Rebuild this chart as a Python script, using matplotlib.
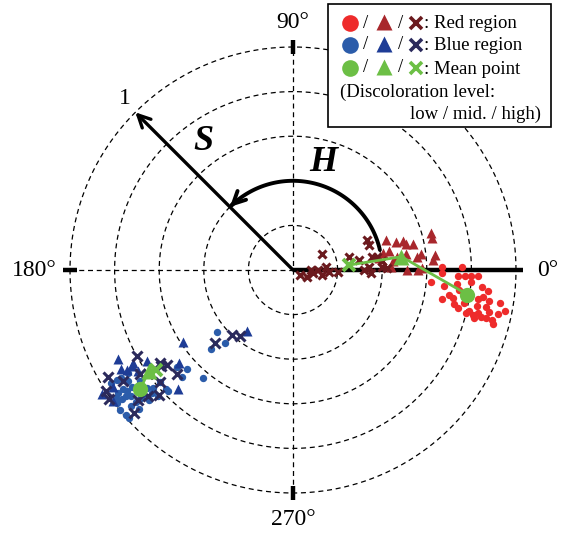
import numpy as np
import matplotlib
matplotlib.use("Agg")
import matplotlib.pyplot as plt
from matplotlib.patches import FancyArrowPatch, Rectangle
from matplotlib.path import Path

plt.rcParams['font.family'] = ['Liberation Serif', 'DejaVu Serif']

# hue angle H (deg) and saturation S
# red region
red_low_H = [1, 1, -1, -2, -2, -2, -2, -5, -6, -5, -4, -5, -7, -9, -6, -11, -10, -8, -9, -9,
             -12, -11, -11, -9, -13, -11, -12, -11, -14, -12, -14, -15, -14, -15, -14, -14, -13, -13]
red_low_S = [.67, .76, .67, .74, .77, .80, .83, .62, .68, .74, .80, .85, .75, .71, .88, .68, .73, .86, .84, .89,
             .74, .78, .84, .94, .81, .88, .94, .97, .83, .90, .92, .84, .87, .93, .89, .80, .76, .85]
red_mid_H = [18, 15, 15, 13, 12, 15, 13, 11, 11, 8, 5, 8, 7, 6, 4, 3, 2, 0, 0, 7, 6, 1]
red_mid_S = [.44, .48, .51, .52, .55, .64, .64, .44, .41, .39, .45, .51, .58, .64, .63, .41, .44, .51, .56, .47, .56, .58]
red_high_H = [-35, 0, -9, -10, 5, 29, -3, -3, 13, 9, 22, 18, 9, 0, 2, -2, 9, 2, 1, 6, -26, 0]
red_high_S = [.04, .08, .09, .13, .15, .15, .16, .20, .26, .30, .36, .36, .36, .32, .34, .35, .38, .40, .42, .40, .07, .11]

# blue region
blue_low_H = [212, 214, 215, 216, 215, 216, 216, 217, 217, 219, 221, 222, 218, 220, 222, 220, 216, 219,
              220, 221, 220, 223, 224, 220, 224, 230, 212, 223, 219, 227, 224, 223,
              212, 212, 217, 220, 222]
blue_low_S = [.91, .89, .93, .89, .96, .92, .98, .96, .99, 1.00, .99, .99, .92, .92, .93, .95, .85, .84,
              .82, .84, .78, .78, .78, .68, .69, .63, .87, .83, .44, .45, .51, .65,
              .96, .93, .94, .89, .87]
blue_mid_H = [207, 210, 211, 210, 213, 212, 219, 226, 213, 213, 216, 219, 233, 213, 211]
blue_mid_S = [.88, .83, .87, .89, .83, .77, .66, .74, .59, 1.02, 1.00, .87, .34, .96, .84]
blue_high_H = [209, 215, 216, 222, 210, 214, 220, 213, 215, 220, 221, 223, 222, 217, 213, 223, 227, 231]
blue_high_S = [.80, .73, .73, .70, .96, .83, .78, 1.00, 1.01, .91, .86, .82, .96, .71, .91, .48, .40, .38]

# mean points (low, mid, high)
red_mean_H = [-8, 7, 5]
red_mean_S = [.79, .49, .25]
blue_mean_H = [218, 215, 216]
blue_mean_S = [.87, .79, .76]

rings = [0.2, 0.4, 0.6, 0.8, 1.0]

c_red = ['#ee2b2b', '#a8272c', '#6b1a1e']
c_blue = ['#2b5caa', '#1e3c96', '#2b2a5c']
c_green = '#6cbf45'


def xy(H, S):
    t = np.radians(np.asarray(H, float))
    S = np.asarray(S, float)
    return S * np.cos(t), S * np.sin(t)


fig = plt.figure(figsize=(5.7, 5.33), dpi=100)
ax = fig.add_axes([0, 0, 1, 1])
ax.set_xlim(-293 / 223, 277 / 223)
ax.set_ylim(-263 / 223, 270 / 223)
ax.axis('off')

# grid
th = np.linspace(0, 2 * np.pi, 400)
for r in rings:
    ax.plot(r * np.cos(th), r * np.sin(th), color='black', lw=0.9, ls=(0, (4, 3)))
ax.plot([0, 0], [-1, 1], color='black', lw=0.9, ls=(0, (4, 3)))
ax.plot([-1, 0], [0, 0], color='black', lw=0.9, ls=(0, (4, 3)))
ax.plot([0, 1.03], [0, 0], color='black', lw=3.2, solid_capstyle='butt')
for a in [90, 180, 270]:
    tx, ty = xy([a, a], [0.97, 1.03])
    ax.plot(tx, ty, color='black', lw=3.2, solid_capstyle='butt')

ax.text(0, 1.11, '90°', ha='center', va='center', fontsize=17)
ax.text(-1.058, 0, '180°', ha='right', va='center', fontsize=17)
ax.text(1.094, 0, '0°', ha='left', va='center', fontsize=17)
ax.text(0, -1.12, '270°', ha='center', va='center', fontsize=17)

# S arrow
sx, sy = xy(135, 1.0)
ax.add_patch(FancyArrowPatch((0, 0), (float(sx), float(sy)), arrowstyle='->', mutation_scale=22,
                             lw=2.4, color='black', shrinkA=0, shrinkB=0))
ax.text(-0.753, 0.767, '1', ha='center', va='center', fontsize=17)
ax.text(-0.404, 0.575, 'S', ha='center', va='center', fontsize=26, fontweight='bold', fontstyle='italic')

# H arc
ang = np.radians(np.linspace(13, 135, 80))
verts = np.column_stack([0.4 * np.cos(ang), 0.4 * np.sin(ang)])
ax.add_patch(FancyArrowPatch(path=Path(verts), arrowstyle='->', mutation_scale=22,
                             lw=2.8, color='black'))
ax.text(0.135, 0.48, 'H', ha='center', va='center', fontsize=26, fontweight='bold', fontstyle='italic')

# data points
for (H, S), col in zip([(red_low_H, red_low_S), (blue_low_H, blue_low_S)], [c_red[0], c_blue[0]]):
    px, py = xy(H, S)
    ax.plot(px, py, 'o', ms=5.3, color=col, mec='none')
for (H, S), col in zip([(red_mid_H, red_mid_S), (blue_mid_H, blue_mid_S)], [c_red[1], c_blue[1]]):
    px, py = xy(H, S)
    ax.plot(px, py, '^', ms=6.5, color=col, mec='none')
for (H, S), col, ms in zip([(red_high_H, red_high_S), (blue_high_H, blue_high_S)], [c_red[2], c_blue[2]], [6, 7]):
    px, py = xy(H, S)
    ax.plot(px, py, 'x', ms=ms, mew=2.2, color=col)

# mean points
for H, S in [(red_mean_H, red_mean_S), (blue_mean_H, blue_mean_S)]:
    px, py = xy(H, S)
    ax.plot(px[::-1], py[::-1], '-', color=c_green, lw=2)
    ax.plot(px[0], py[0], 'o', ms=11, color=c_green, mec='none')
    ax.plot(px[1], py[1], '^', ms=11, color=c_green, mec='none')
    ax.plot(px[2], py[2], 'x', ms=9, mew=2.8, color=c_green)

# legend box (figure pixel coords)
W, Hh = 570, 533


def fp(x, y):
    return x / W, 1 - y / Hh


lx, ly = fp(328, 127)
fig.patches.append(Rectangle((lx, ly), (551 - 328) / W, (127 - 4) / Hh, transform=fig.transFigure,
                             facecolor='white', edgecolor='black', lw=1.2, zorder=5))
rows = [(c_red, 'Red region', 23), (c_blue, 'Blue region', 45),
        ([c_green] * 3, 'Mean point', 68)]
for cols, label, y in rows:
    fig.add_artist(plt.Line2D(*zip(fp(350, y)), marker='o', ms=12, color=cols[0], mec='none',
                              transform=fig.transFigure, zorder=6))
    fig.text(*fp(366, y), '/', ha='center', va='center', fontsize=13.5, zorder=6)
    fig.add_artist(plt.Line2D(*zip(fp(384, y - 1)), marker='^', ms=12, color=cols[1], mec='none',
                              transform=fig.transFigure, zorder=6))
    fig.text(*fp(401, y), '/', ha='center', va='center', fontsize=13.5, zorder=6)
    fig.add_artist(plt.Line2D(*zip(fp(416, y)), marker='x', ms=8, mew=2.6, color=cols[2],
                              transform=fig.transFigure, zorder=6))
    fig.text(*fp(424, y + 1), ': ' + label, ha='left', va='center', fontsize=13.5, zorder=6)
fig.text(*fp(340, 92), '(Discoloration level:', ha='left', va='center', fontsize=13.5, zorder=6)
fig.text(*fp(541, 114), 'low / mid. / high)', ha='right', va='center', fontsize=13.5, zorder=6)

fig.savefig('out.png', dpi=100)
